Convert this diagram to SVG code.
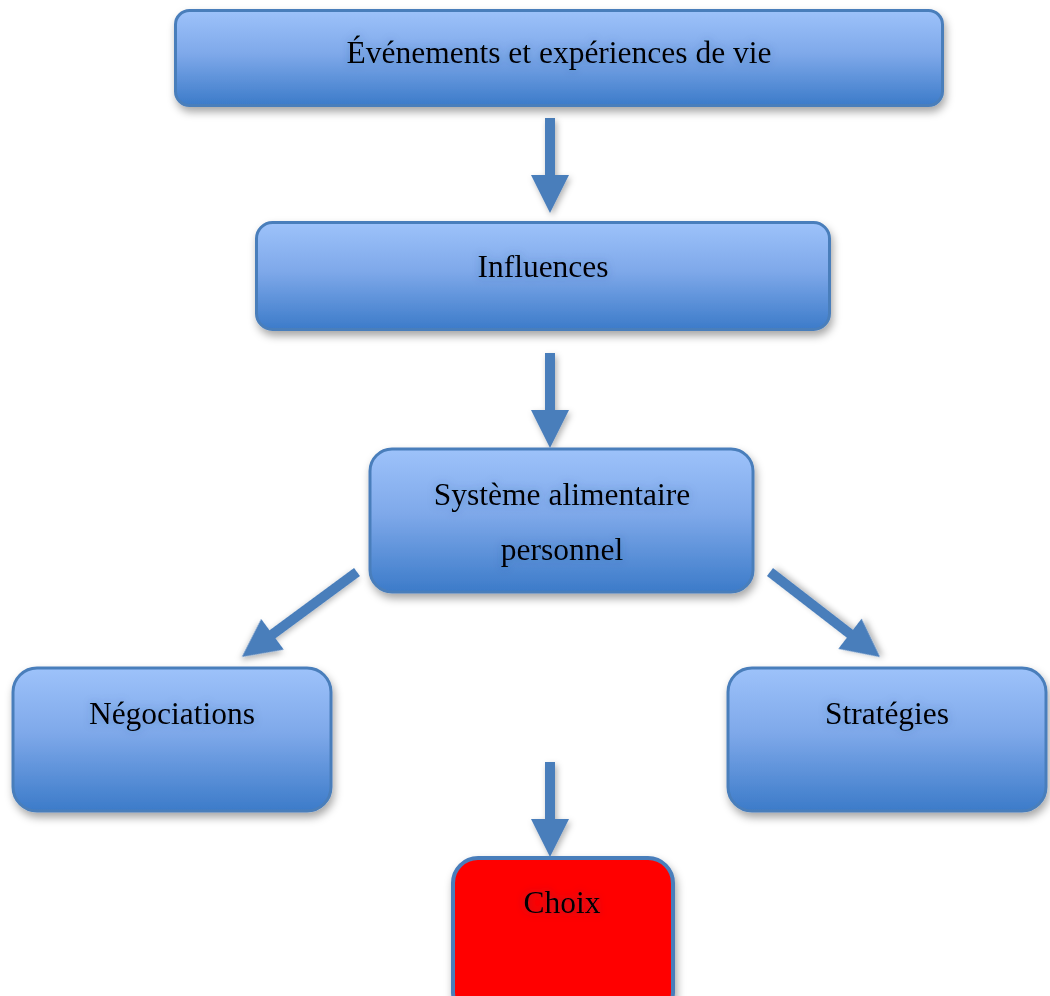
<svg xmlns="http://www.w3.org/2000/svg" width="1050" height="996" viewBox="0 0 1050 996">
<defs>
<linearGradient id="blue" x1="0" y1="0" x2="0" y2="1">
<stop offset="0" stop-color="#9DC2FA"/>
<stop offset="0.45" stop-color="#7FA9EA"/>
<stop offset="1" stop-color="#3C7BC9"/>
</linearGradient>
<filter id="sh" x="-10%" y="-10%" width="125%" height="140%">
<feDropShadow dx="2" dy="5" stdDeviation="4" flood-color="#000" flood-opacity="0.35"/>
</filter>
<filter id="ash" x="-50%" y="-20%" width="200%" height="150%">
<feDropShadow dx="2" dy="3" stdDeviation="3" flood-color="#000" flood-opacity="0.3"/>
</filter>
<filter id="tsh" x="-10%" y="-30%" width="120%" height="160%">
<feDropShadow dx="0" dy="0" stdDeviation="4" flood-color="#2a4a80" flood-opacity="0.35"/>
</filter>
<polygon id="arr" points="-5,0 5,0 5,57 19,57 0,95 -19,57 -5,57"/>
</defs>
<style>
.box{fill:url(#blue);stroke:#4A7EBB;stroke-width:3;filter:url(#sh)}
.red{fill:#FF0000;stroke:#4A7EBB;stroke-width:4;filter:url(#sh)}
.lbl{font-family:"Liberation Serif","Times New Roman",serif;font-size:31.5px;fill:#000;text-anchor:middle;filter:url(#tsh)}
.ar{fill:#4A7EBB;filter:url(#ash)}
</style>
<g id="connectors">
<use href="#arr" class="ar" transform="translate(550,118)"/>
<use href="#arr" class="ar" transform="translate(550,353)"/>
<polygon class="ar" transform="translate(357,572) rotate(53.6)" points="-5,0 5,0 5,105 19,105 0,143 -19,105 -5,105"/>
<polygon class="ar" transform="translate(770,572) rotate(-52.3)" points="-5,0 5,0 5,101 19,101 0,139 -19,101 -5,101"/>
<use href="#arr" class="ar" transform="translate(550,762)"/>
</g>
<g id="n1">
<rect class="box" x="175.5" y="10.5" width="767" height="95" rx="14"/>
<text class="lbl" x="559" y="63">Événements et expériences de vie</text>
</g>
<g id="n2">
<rect class="box" x="256.5" y="222.5" width="573" height="107" rx="16"/>
<text class="lbl" x="543" y="277">Influences</text>
</g>
<g id="n3">
<rect class="box" x="370" y="449" width="383" height="143" rx="22"/>
<text class="lbl" x="562" y="505">Système alimentaire</text>
<text class="lbl" x="562" y="560">personnel</text>
</g>
<g id="n4">
<rect class="box" x="13" y="668" width="318" height="143" rx="24"/>
<text class="lbl" x="172" y="724">Négociations</text>
</g>
<g id="n5">
<rect class="box" x="728" y="668" width="318" height="143" rx="24"/>
<text class="lbl" x="887" y="724">Stratégies</text>
</g>
<g id="n6">
<rect class="red" x="453" y="858" width="220" height="160" rx="25"/>
<text class="lbl" x="562" y="913">Choix</text>
</g>
</svg>
